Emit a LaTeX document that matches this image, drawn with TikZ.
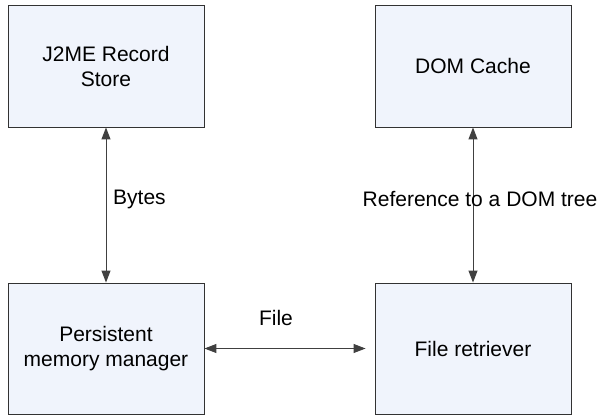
\documentclass[tikz,border=0pt]{standalone}
\usepackage{fontspec}
\setmainfont{Liberation Sans}
\usetikzlibrary{arrows.meta}
\definecolor{boxfill}{RGB}{240,244,252}
\definecolor{boxline}{RGB}{50,50,50}
\tikzset{
  blk/.style={draw=boxline, line width=0.9pt, fill=boxfill, minimum width=196pt, align=center, inner sep=0pt},
  lbl/.style={inner sep=0pt},
  conn/.style={draw=black!75, line width=1pt, >={Triangle[length=12pt,width=9pt]}, <->}
}
\begin{document}
\begin{tikzpicture}[x=1pt,y=-1pt, font=\fontsize{21}{25}\selectfont]
\useasboundingbox (0,0) rectangle (600,415);
\node[blk, minimum height=122pt] (rs) at (106,66) {J2ME Record\\Store};
\node[blk, minimum height=122pt] (dc) at (473,66) {DOM Cache};
\node[blk, minimum height=131pt] (pm) at (106,348.5) {Persistent\\memory manager};
\node[blk, minimum height=131pt] (fr) at (473,348.5) {File retriever};
\draw[conn] (rs) -- (pm);
\draw[conn] (dc) -- (fr);
\draw[conn, shorten >=9pt] (pm) -- (fr);
\node[lbl, anchor=west] (lb) at (113,199) {Bytes};
\node[lbl] (ld) at (480,199) {Reference to a DOM tree};
\node[lbl] (lf) at (276,318) {File};
\end{tikzpicture}
\end{document}
